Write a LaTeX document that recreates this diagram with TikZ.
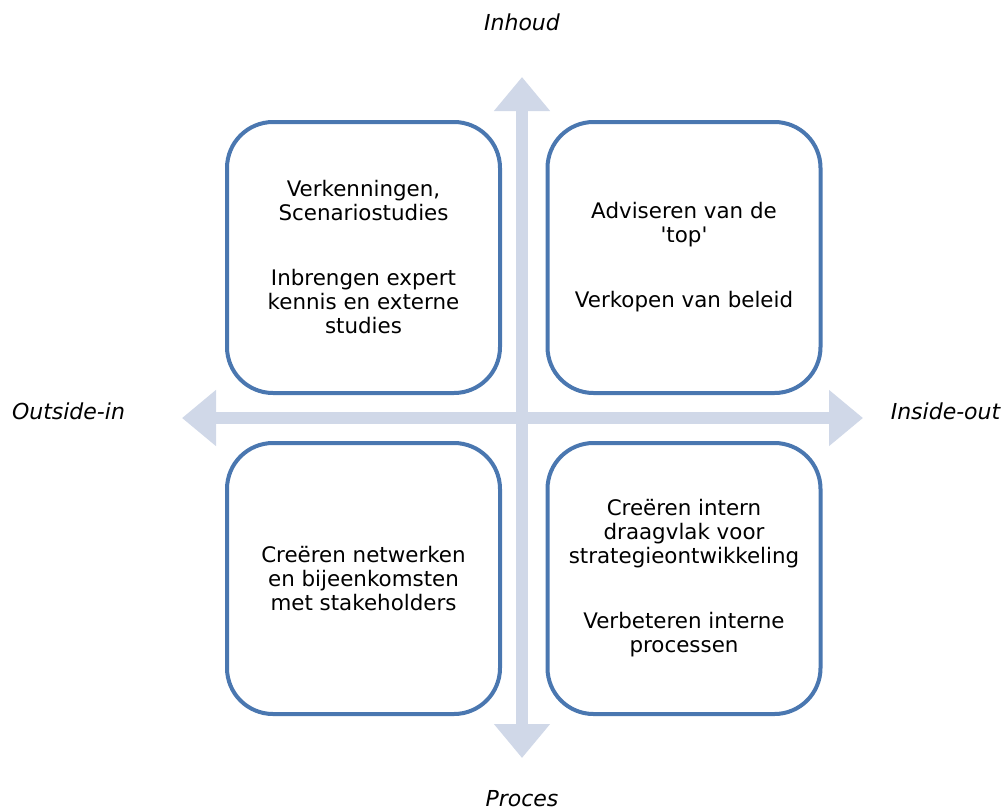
\documentclass[tikz,border=0pt]{standalone}
\usepackage{fontspec}
\setmainfont{DejaVu Sans}[Ligatures=TeXOff]
\usetikzlibrary{arrows.meta}

\definecolor{axisfill}{HTML}{D0D8E8}
\definecolor{boxline}{HTML}{4A77B0}

\tikzset{
   axis/.style={line width=12pt, draw=axisfill, {Triangle[width=54pt,length=34pt]}-{Triangle[width=54pt,length=34pt]}},
   quadrant/.style={draw=boxline, line width=4pt, fill=white, rounded corners=46pt, minimum width=273pt, minimum height=271pt, align=center, font=\fontsize{21.4}{24}\selectfont},
   axislabel/.style={font=\fontsize{22}{24}\selectfont\itshape}
}

\begin{document}
\begin{tikzpicture}[x=1pt,y=-1pt]
\useasboundingbox (0,0) rectangle (1003,809);
\coordinate (origin) at (522,418);
\coordinate (inhoudtip) at (522,77);
\coordinate (procestip) at (522,758);
\coordinate (outsidetip) at (182,418);
\coordinate (insidetip) at (863,418);
\draw[axis] (outsidetip) -- (insidetip);
\draw[axis] (procestip) -- (inhoudtip);
\node[axislabel] (inhoud) at (522,22) {Inhoud};
\node[axislabel] (proces) at (522,799) {Proces};
\node[axislabel] (outside) at (68.5,411) {Outside-in};
\node[axislabel] (inside) at (945.5,411) {Inside-out};
\node[quadrant] (verkennen) at (363.5,257.5) {Verkenningen,\\Scenariostudies\\[41pt]Inbrengen expert\\kennis en externe\\studies};
\node[quadrant] (adviseren) at (684,257.5) {Adviseren van de\\'top'\\[41pt]Verkopen van beleid};
\node[quadrant] (netwerken) at (363.5,578.5) {Creëren netwerken\\en bijeenkomsten\\met stakeholders};
\node[quadrant] (draagvlak) at (684,578.5) {Creëren intern\\draagvlak voor\\strategieontwikkeling\\[41pt]Verbeteren interne\\processen};
\end{tikzpicture}
\end{document}
